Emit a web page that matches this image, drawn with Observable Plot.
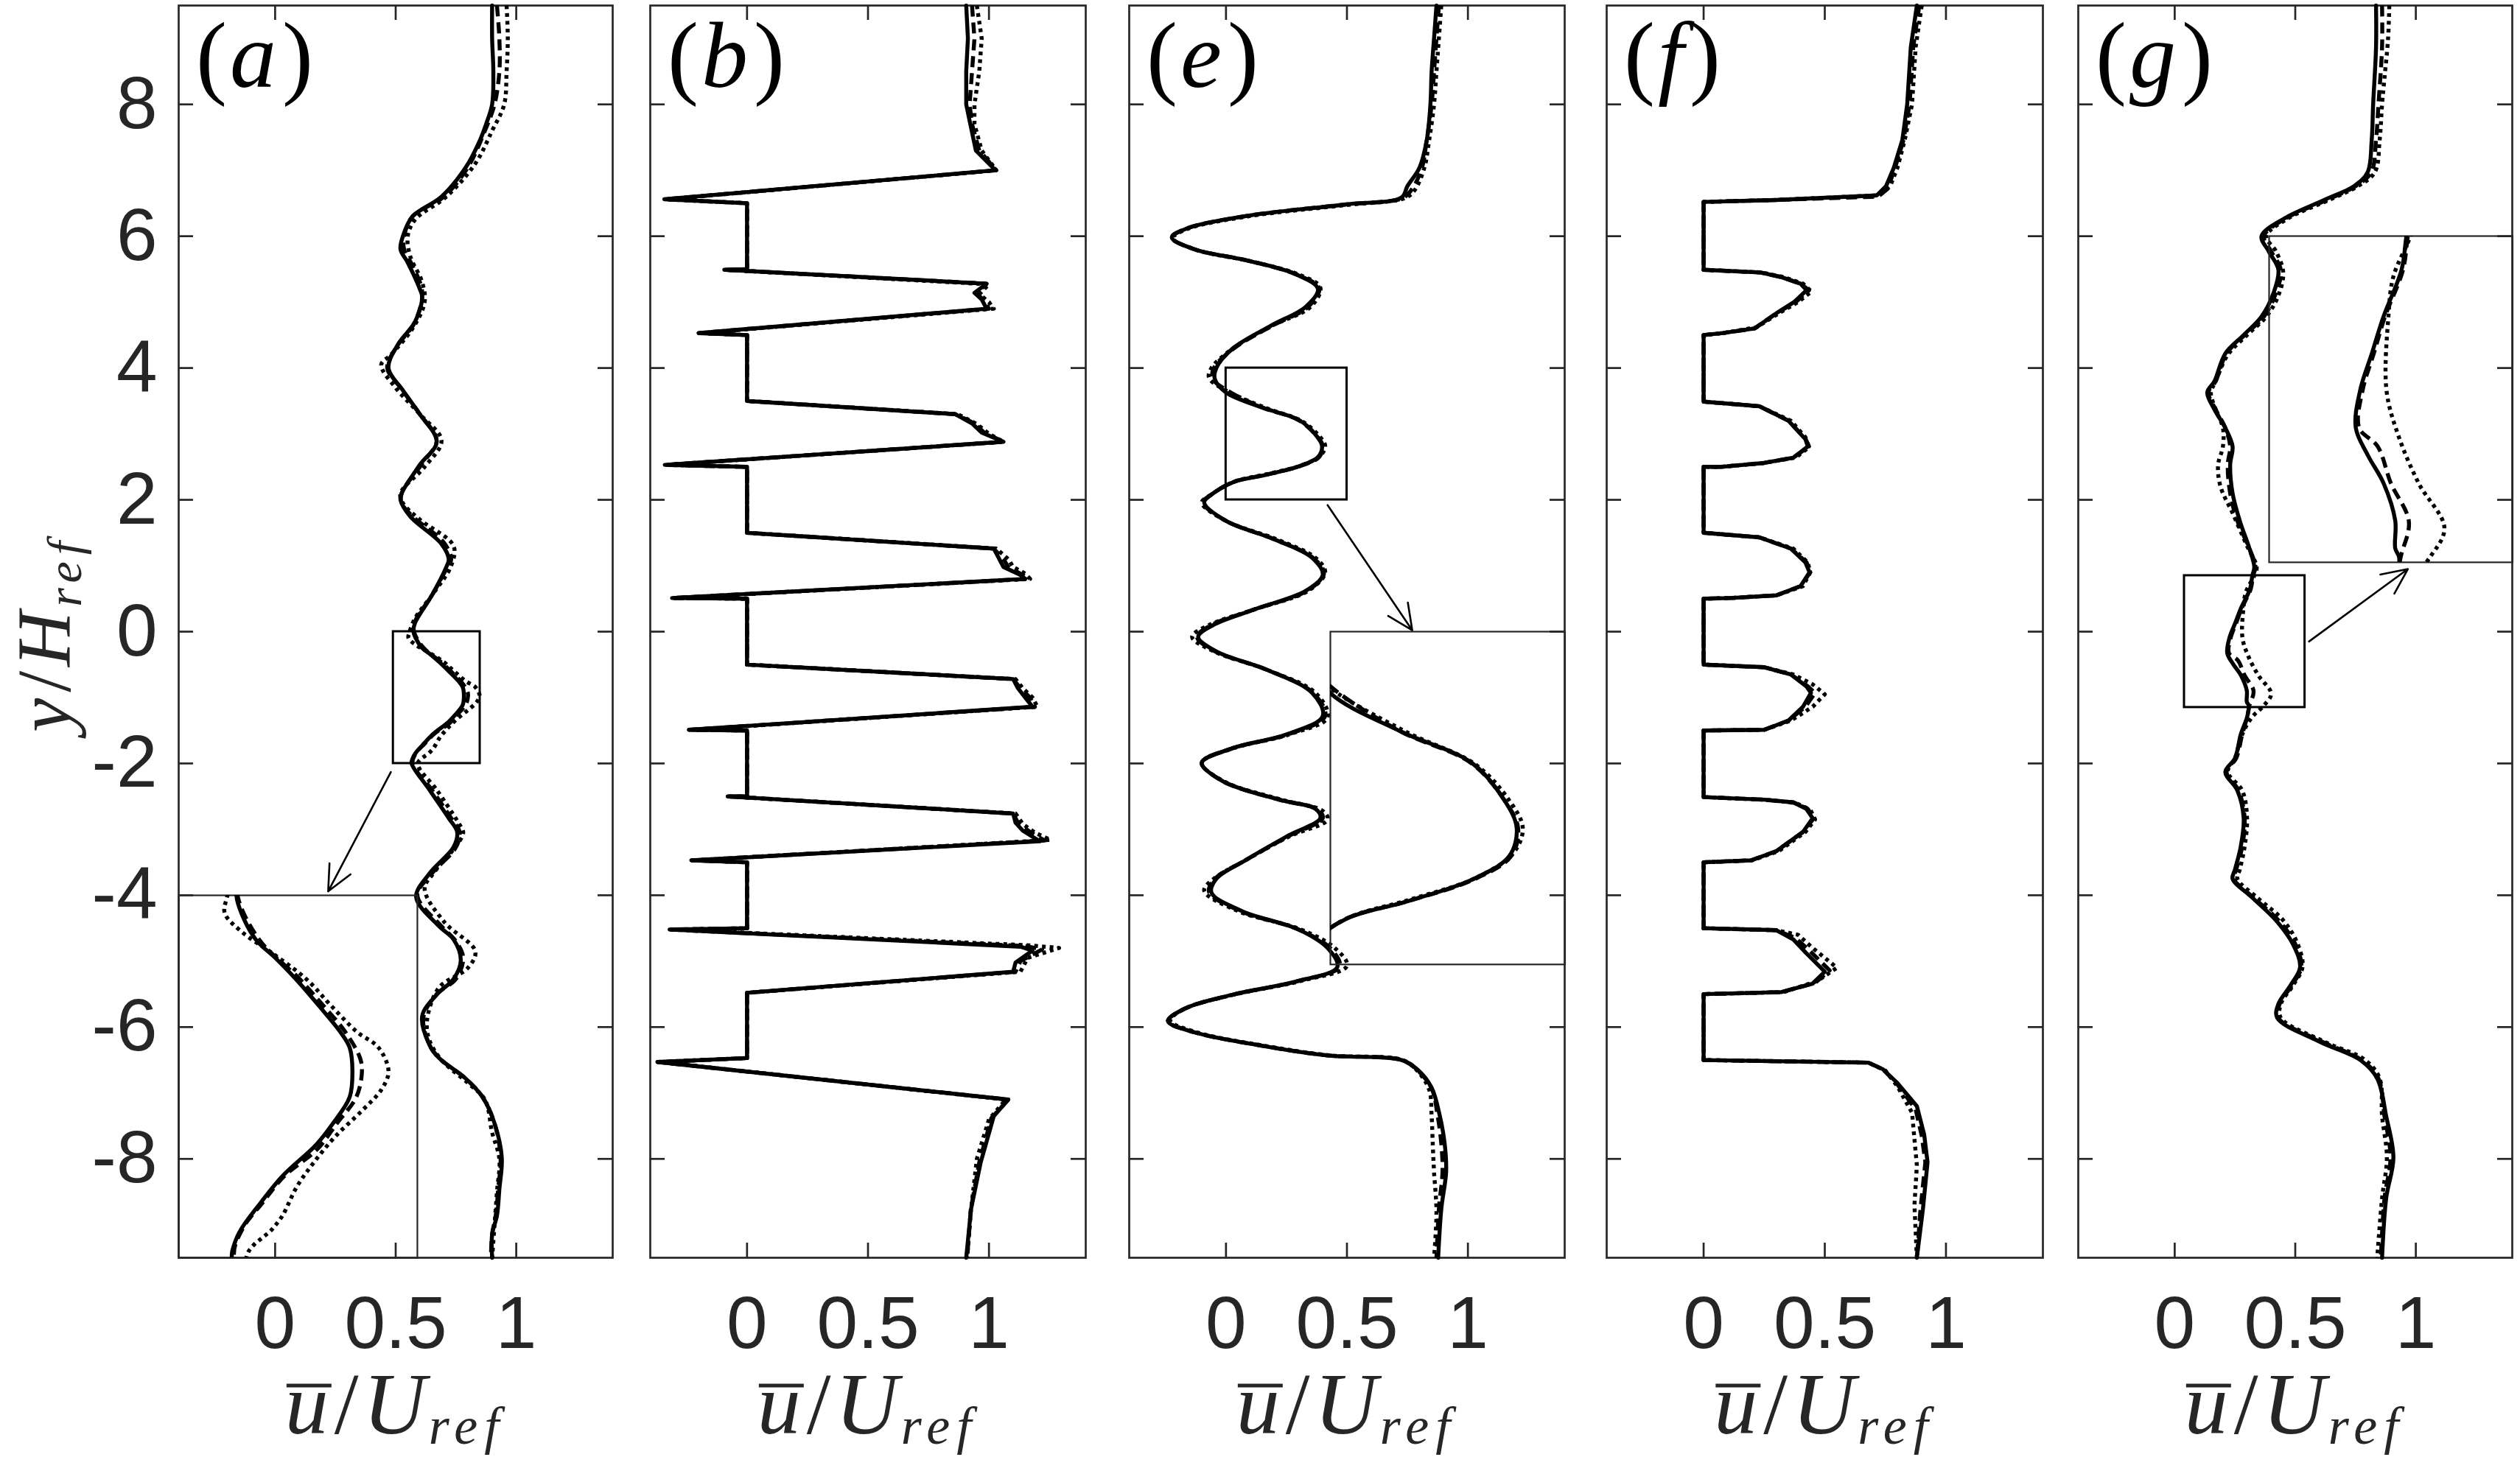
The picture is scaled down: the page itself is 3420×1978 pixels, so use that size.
<!DOCTYPE html>
<html><head><meta charset="utf-8">
<script src="https://cdn.jsdelivr.net/npm/d3@7"></script>
<script src="https://cdn.jsdelivr.net/npm/@observablehq/plot@0.6"></script>
<style>
body{margin:0;background:#fff;}
#fig{position:relative;width:3420px;height:1978px;background:#fff;overflow:hidden;}
#fig > svg{position:absolute;}
.mathtxt{font-family:"Liberation Serif","DejaVu Serif",serif;}
</style></head><body><div id="fig"></div>
<script>
// ---------- axes ----------
const xTicks = [0, 0.5, 1];
const yTicks = [-8, -6, -4, -2, 0, 2, 4, 6, 8];
const xDomain = [-0.4, 1.4];
const yDomain = [-9.5, 9.5];
const panelIds = ["a", "b", "e", "f", "g"];

// ---------- panel (a) ----------
const a_solid = [[0.90,9.5],[0.90,9.0],[0.905,8.5],[0.90,8.0],[0.875,7.7],[0.85,7.46],[0.79,7.04],[0.69,6.6],[0.57,6.3],[0.53,6.0],[0.52,5.8],[0.55,5.6],[0.60,5.2],[0.61,5.07],[0.58,4.7],[0.51,4.36],[0.47,4.0],[0.53,3.66],[0.60,3.3],[0.67,2.88],[0.60,2.53],[0.525,2.1],[0.52,2.0],[0.56,1.75],[0.69,1.33],[0.72,1.1],[0.71,0.98],[0.65,0.55],[0.58,0.13],[0.574,0],[0.583,-0.098],[0.609,-0.244],[0.644,-0.345],[0.681,-0.462],[0.722,-0.607],[0.761,-0.753],[0.778,-0.84],[0.783,-0.971],[0.778,-1.113],[0.748,-1.258],[0.718,-1.375],[0.657,-1.549],[0.618,-1.695],[0.583,-1.84],[0.570,-1.927],[0.566,-2.0],[0.64,-2.4],[0.72,-2.83],[0.755,-3.04],[0.74,-3.27],[0.64,-3.67],[0.585,-4.03],[0.68,-4.47],[0.74,-4.67],[0.77,-4.99],[0.74,-5.27],[0.67,-5.51],[0.61,-5.83],[0.64,-6.27],[0.68,-6.47],[0.79,-6.78],[0.86,-7.06],[0.91,-7.46],[0.94,-7.98],[0.93,-8.46],[0.92,-8.86],[0.90,-9.14],[0.90,-9.5]];
const a_dashed = [[0.92,9.5],[0.93,9.0],[0.93,8.5],[0.91,8.0],[0.87,7.6],[0.80,7.05],[0.70,6.6],[0.57,6.3],[0.535,6.0],[0.535,5.8],[0.57,5.55],[0.61,5.15],[0.58,4.7],[0.50,4.3],[0.465,4.0],[0.52,3.7],[0.60,3.3],[0.67,2.9],[0.61,2.55],[0.525,2.1],[0.525,1.95],[0.57,1.75],[0.70,1.35],[0.73,1.1],[0.71,0.95],[0.65,0.55],[0.58,0.15],[0.576,0],[0.615,-0.244],[0.688,-0.462],[0.730,-0.607],[0.770,-0.753],[0.797,-0.9],[0.800,-0.98],[0.790,-1.113],[0.755,-1.258],[0.72,-1.4],[0.66,-1.55],[0.62,-1.7],[0.585,-1.84],[0.57,-2.0],[0.65,-2.4],[0.73,-2.83],[0.765,-3.04],[0.75,-3.27],[0.65,-3.67],[0.59,-4.0],[0.69,-4.47],[0.75,-4.7],[0.78,-4.95],[0.75,-5.27],[0.67,-5.5],[0.615,-5.85],[0.64,-6.27],[0.68,-6.47],[0.79,-6.78],[0.86,-7.06],[0.91,-7.46],[0.935,-7.98],[0.925,-8.46],[0.915,-8.86],[0.90,-9.14],[0.895,-9.5]];
const a_dotted = [[0.96,9.5],[0.965,9.0],[0.96,8.5],[0.95,8.0],[0.90,7.6],[0.83,7.1],[0.71,6.6],[0.58,6.25],[0.55,6.0],[0.56,5.7],[0.61,5.3],[0.62,5.0],[0.57,4.6],[0.48,4.2],[0.44,4.05],[0.50,3.7],[0.60,3.3],[0.69,2.9],[0.62,2.5],[0.52,2.1],[0.53,1.95],[0.60,1.7],[0.74,1.3],[0.73,1.0],[0.66,0.6],[0.58,0.2],[0.557,-0.011],[0.553,-0.098],[0.583,-0.2],[0.639,-0.32],[0.700,-0.462],[0.744,-0.607],[0.791,-0.753],[0.830,-0.84],[0.848,-0.971],[0.835,-1.073],[0.800,-1.189],[0.752,-1.331],[0.713,-1.476],[0.683,-1.607],[0.657,-1.767],[0.639,-1.84],[0.592,-2.0],[0.67,-2.4],[0.76,-2.9],[0.78,-3.05],[0.74,-3.3],[0.66,-3.65],[0.62,-3.9],[0.70,-4.4],[0.83,-4.85],[0.80,-5.1],[0.68,-5.4],[0.63,-5.9],[0.64,-6.2],[0.69,-6.5],[0.80,-6.85],[0.87,-7.1],[0.90,-7.6],[0.93,-8.0],[0.92,-8.5],[0.91,-9.0],[0.90,-9.5]];

// ---------- panel (b) ----------
const b_solid = [[0.906,9.5],[0.913,9.0],[0.906,8.5],[0.906,8.0],[0.92,7.75],[0.946,7.3],[1.027,7.0],[-0.342,6.56],[0,6.5],[0,5.5],[-0.094,5.49],[0.99,5.28],[0.94,5.14],[0.97,5.04],[0.99,4.9],[-0.20,4.53],[0,4.5],[0,3.5],[0.86,3.3],[0.93,3.16],[0.97,3.02],[1.06,2.88],[-0.34,2.53],[0,2.5],[0,1.5],[1.02,1.26],[1.04,1.12],[1.06,0.98],[1.13,0.86],[1.15,0.8],[-0.31,0.51],[0,0.5],[0,-0.5],[1.10,-0.72],[1.12,-0.86],[1.15,-1.0],[1.18,-1.14],[-0.24,-1.49],[0,-1.5],[0,-2.5],[-0.08,-2.5],[1.10,-2.76],[1.11,-2.9],[1.14,-3.02],[1.21,-3.18],[-0.23,-3.47],[0,-3.5],[0,-4.5],[-0.32,-4.52],[1.13,-4.78],[1.18,-4.84],[1.11,-5.02],[1.10,-5.16],[0,-5.48],[0,-6.47],[-0.37,-6.53],[1.08,-7.1],[1.02,-7.35],[0.966,-8.05],[0.926,-8.76],[0.906,-9.5]];
const b_dashed = [[0.93,9.5],[0.94,9.0],[0.93,8.5],[0.92,8.0],[0.93,7.7],[0.96,7.3],[1.03,7.0],[-0.34,6.56],[0,6.5],[0,5.5],[-0.09,5.49],[0.99,5.28],[0.95,5.13],[0.98,5.02],[1.0,4.9],[-0.2,4.53],[0,4.5],[0,3.5],[0.86,3.3],[0.94,3.16],[0.98,3.02],[1.06,2.88],[-0.34,2.53],[0,2.5],[0,1.5],[1.02,1.26],[1.06,1.1],[1.08,0.98],[1.14,0.86],[1.16,0.8],[-0.31,0.51],[0,0.5],[0,-0.5],[1.10,-0.72],[1.13,-0.86],[1.17,-1.0],[1.19,-1.14],[-0.24,-1.49],[0,-1.5],[0,-2.5],[-0.08,-2.5],[1.10,-2.76],[1.12,-2.9],[1.17,-3.04],[1.23,-3.17],[-0.23,-3.47],[0,-3.5],[0,-4.5],[-0.32,-4.52],[1.15,-4.77],[1.22,-4.82],[1.13,-5.0],[1.11,-5.16],[0,-5.48],[0,-6.47],[-0.37,-6.53],[1.08,-7.1],[1.01,-7.38],[0.96,-8.05],[0.925,-8.76],[0.91,-9.5]];
const b_dotted = [[0.95,9.5],[0.97,9.0],[0.96,8.5],[0.94,8.0],[0.94,7.7],[0.97,7.3],[1.03,7.0],[-0.33,6.56],[0,6.5],[0,5.5],[-0.09,5.49],[1.0,5.27],[0.96,5.12],[1.0,5.0],[1.02,4.9],[-0.19,4.53],[0,4.5],[0,3.5],[0.87,3.3],[0.95,3.15],[1.0,3.0],[1.06,2.88],[-0.33,2.53],[0,2.5],[0,1.5],[1.03,1.26],[1.08,1.1],[1.10,0.98],[1.15,0.88],[1.17,0.8],[-0.30,0.51],[0,0.5],[0,-0.5],[1.11,-0.72],[1.14,-0.86],[1.18,-1.0],[1.20,-1.14],[-0.23,-1.49],[0,-1.5],[0,-2.5],[-0.08,-2.5],[1.11,-2.76],[1.14,-2.92],[1.19,-3.05],[1.255,-3.16],[-0.22,-3.47],[0,-3.5],[0,-4.5],[-0.31,-4.52],[1.17,-4.76],[1.29,-4.8],[1.16,-4.95],[1.13,-5.16],[0,-5.48],[0,-6.47],[-0.36,-6.53],[1.07,-7.1],[1.0,-7.4],[0.95,-8.0],[0.925,-8.8],[0.91,-9.5]];

// ---------- panel (e) ----------
const e_solid = [[0.87,9.5],[0.86,9.0],[0.85,8.5],[0.845,8.0],[0.83,7.46],[0.80,7.04],[0.75,6.76],[0.726,6.59],[0.49,6.48],[0.09,6.31],[-0.16,6.12],[-0.224,5.98],[-0.13,5.8],[0.09,5.63],[0.29,5.42],[0.38,5.2],[0.33,4.93],[0.185,4.64],[0.026,4.29],[-0.04,4.0],[-0.046,3.83],[0.0,3.63],[0.15,3.4],[0.302,3.21],[0.37,2.99],[0.397,2.82],[0.381,2.65],[0.302,2.51],[0.165,2.38],[0.031,2.27],[-0.06,2.08],[-0.09,1.96],[0.0,1.68],[0.20,1.4],[0.356,1.12],[0.40,0.86],[0.33,0.62],[0.12,0.34],[-0.053,0.1],[-0.115,-0.08],[-0.04,-0.3],[0.17,-0.58],[0.356,-0.93],[0.40,-1.28],[0.25,-1.56],[0.026,-1.77],[-0.10,-1.99],[-0.013,-2.27],[0.22,-2.55],[0.37,-2.69],[0.39,-2.83],[0.25,-3.11],[0.08,-3.47],[-0.04,-3.75],[-0.06,-3.96],[0.066,-4.24],[0.30,-4.52],[0.42,-4.8],[0.46,-5.09],[0.30,-5.3],[0.026,-5.51],[-0.17,-5.72],[-0.24,-5.91],[-0.13,-6.08],[0.16,-6.29],[0.42,-6.43],[0.726,-6.5],[0.79,-6.64],[0.85,-6.92],[0.884,-7.35],[0.904,-7.77],[0.91,-8.19],[0.89,-8.76],[0.877,-9.5]];
const e_dashed = [[0.88,9.5],[0.87,9.0],[0.86,8.5],[0.85,8.0],[0.83,7.46],[0.81,7.04],[0.77,6.72],[0.73,6.58],[0.49,6.48],[0.09,6.31],[-0.16,6.12],[-0.225,5.98],[-0.13,5.8],[0.09,5.63],[0.29,5.42],[0.385,5.21],[0.34,4.93],[0.19,4.64],[0.03,4.29],[-0.05,4.0],[-0.055,3.84],[0.005,3.66],[0.15,3.4],[0.30,3.21],[0.37,2.99],[0.40,2.82],[0.385,2.65],[0.305,2.51],[0.165,2.38],[0.03,2.27],[-0.06,2.08],[-0.095,1.96],[0.0,1.68],[0.20,1.4],[0.36,1.12],[0.405,0.88],[0.335,0.62],[0.12,0.34],[-0.06,0.1],[-0.12,-0.08],[-0.045,-0.3],[0.17,-0.58],[0.36,-0.93],[0.41,-1.28],[0.255,-1.56],[0.026,-1.77],[-0.10,-1.99],[-0.013,-2.27],[0.22,-2.55],[0.38,-2.7],[0.40,-2.83],[0.255,-3.11],[0.08,-3.47],[-0.045,-3.75],[-0.07,-3.95],[0.06,-4.24],[0.30,-4.52],[0.43,-4.8],[0.47,-5.08],[0.30,-5.3],[0.026,-5.51],[-0.17,-5.72],[-0.24,-5.91],[-0.13,-6.08],[0.16,-6.29],[0.42,-6.43],[0.726,-6.5],[0.79,-6.65],[0.85,-6.93],[0.875,-7.35],[0.89,-7.77],[0.895,-8.19],[0.88,-8.76],[0.87,-9.5]];
const e_dotted = [[0.89,9.5],[0.88,9.0],[0.87,8.5],[0.86,8.0],[0.84,7.46],[0.82,7.04],[0.78,6.7],[0.74,6.58],[0.49,6.47],[0.09,6.3],[-0.16,6.11],[-0.22,5.97],[-0.12,5.79],[0.10,5.62],[0.30,5.42],[0.39,5.22],[0.35,4.93],[0.19,4.64],[0.03,4.3],[-0.06,4.0],[-0.07,3.85],[0.0,3.66],[0.16,3.4],[0.31,3.2],[0.38,2.99],[0.41,2.82],[0.39,2.67],[0.31,2.52],[0.17,2.39],[0.03,2.27],[-0.06,2.08],[-0.10,1.96],[0.0,1.68],[0.21,1.4],[0.37,1.12],[0.41,0.9],[0.34,0.62],[0.12,0.34],[-0.07,0.1],[-0.14,-0.08],[-0.05,-0.3],[0.17,-0.58],[0.37,-0.93],[0.42,-1.3],[0.26,-1.56],[0.03,-1.77],[-0.10,-1.99],[-0.01,-2.27],[0.23,-2.55],[0.40,-2.72],[0.42,-2.85],[0.26,-3.11],[0.08,-3.47],[-0.05,-3.75],[-0.09,-3.93],[0.05,-4.24],[0.31,-4.52],[0.45,-4.8],[0.50,-5.07],[0.31,-5.3],[0.03,-5.51],[-0.17,-5.72],[-0.23,-5.9],[-0.12,-6.08],[0.17,-6.29],[0.43,-6.43],[0.73,-6.5],[0.79,-6.66],[0.84,-6.95],[0.85,-7.35],[0.855,-7.8],[0.86,-8.2],[0.87,-8.8],[0.86,-9.5]];

// ---------- panel (f) ----------
const f_solid = [[0.88,9.5],[0.855,8.87],[0.84,8.0],[0.82,7.46],[0.785,7.04],[0.753,6.76],[0.715,6.62],[0.30,6.55],[0,6.52],[0,5.49],[0.234,5.45],[0.32,5.38],[0.40,5.28],[0.425,5.18],[0.373,5.0],[0.30,4.83],[0.21,4.6],[0.08,4.53],[0,4.5],[0,3.49],[0.23,3.42],[0.35,3.2],[0.42,2.92],[0.43,2.81],[0.37,2.64],[0.25,2.56],[0.07,2.5],[0,2.5],[0,1.5],[0.23,1.43],[0.36,1.26],[0.42,1.05],[0.437,0.9],[0.40,0.69],[0.30,0.55],[0.11,0.51],[0,0.5],[0,-0.5],[0.25,-0.54],[0.36,-0.65],[0.424,-0.83],[0.443,-0.93],[0.41,-1.14],[0.35,-1.35],[0.25,-1.49],[0,-1.5],[0,-2.51],[0.25,-2.55],[0.37,-2.59],[0.424,-2.69],[0.45,-2.83],[0.41,-3.04],[0.30,-3.33],[0.196,-3.47],[0,-3.5],[0,-4.5],[0.30,-4.53],[0.37,-4.67],[0.424,-4.88],[0.50,-5.16],[0.45,-5.34],[0.32,-5.47],[0,-5.5],[0,-6.5],[0.68,-6.54],[0.74,-6.64],[0.80,-6.85],[0.88,-7.2],[0.91,-7.63],[0.924,-8.05],[0.905,-8.76],[0.88,-9.5]];
const f_dashed = [[0.89,9.5],[0.865,8.87],[0.85,8.0],[0.825,7.46],[0.79,7.04],[0.76,6.72],[0.72,6.6],[0.30,6.55],[0,6.52],[0,5.49],[0.234,5.45],[0.32,5.38],[0.40,5.28],[0.435,5.18],[0.38,5.0],[0.30,4.83],[0.21,4.6],[0.08,4.53],[0,4.5],[0,3.49],[0.23,3.42],[0.35,3.2],[0.42,2.93],[0.435,2.81],[0.37,2.64],[0.25,2.56],[0.07,2.5],[0,2.5],[0,1.5],[0.23,1.43],[0.36,1.26],[0.425,1.05],[0.44,0.9],[0.40,0.69],[0.30,0.55],[0.11,0.51],[0,0.5],[0,-0.5],[0.25,-0.54],[0.36,-0.65],[0.43,-0.83],[0.46,-0.93],[0.42,-1.14],[0.35,-1.35],[0.25,-1.49],[0,-1.5],[0,-2.51],[0.25,-2.55],[0.37,-2.59],[0.43,-2.69],[0.455,-2.83],[0.41,-3.04],[0.30,-3.33],[0.196,-3.47],[0,-3.5],[0,-4.5],[0.30,-4.53],[0.38,-4.65],[0.44,-4.85],[0.52,-5.14],[0.46,-5.33],[0.32,-5.47],[0,-5.5],[0,-6.5],[0.68,-6.54],[0.74,-6.64],[0.80,-6.87],[0.875,-7.25],[0.9,-7.65],[0.915,-8.05],[0.895,-8.76],[0.88,-9.5]];
const f_dotted = [[0.90,9.5],[0.875,8.87],[0.86,8.0],[0.83,7.46],[0.80,7.04],[0.77,6.76],[0.72,6.62],[0.30,6.55],[0,6.52],[0,5.49],[0.24,5.45],[0.33,5.38],[0.41,5.28],[0.445,5.16],[0.39,5.0],[0.31,4.83],[0.22,4.62],[0.08,4.53],[0,4.5],[0,3.49],[0.23,3.42],[0.36,3.2],[0.42,2.95],[0.435,2.8],[0.38,2.64],[0.25,2.56],[0.07,2.5],[0,2.5],[0,1.5],[0.23,1.43],[0.37,1.26],[0.43,1.05],[0.44,0.9],[0.41,0.69],[0.30,0.55],[0.11,0.51],[0,0.5],[0,-0.5],[0.25,-0.54],[0.37,-0.65],[0.45,-0.8],[0.50,-0.95],[0.45,-1.14],[0.36,-1.35],[0.25,-1.49],[0,-1.5],[0,-2.51],[0.25,-2.55],[0.38,-2.6],[0.44,-2.7],[0.46,-2.85],[0.42,-3.04],[0.31,-3.33],[0.2,-3.47],[0,-3.5],[0,-4.5],[0.30,-4.53],[0.39,-4.6],[0.45,-4.8],[0.55,-5.1],[0.47,-5.3],[0.33,-5.47],[0,-5.5],[0,-6.5],[0.68,-6.54],[0.75,-6.66],[0.80,-6.9],[0.86,-7.3],[0.87,-7.7],[0.88,-8.1],[0.87,-8.7],[0.88,-9.5]];

// ---------- panel (g) ----------
const g_solid = [[0.835,9.5],[0.835,8.87],[0.823,8.0],[0.817,7.46],[0.80,6.97],[0.744,6.76],[0.62,6.55],[0.455,6.27],[0.36,6.0],[0.39,5.77],[0.43,5.49],[0.41,5.14],[0.36,4.78],[0.286,4.5],[0.21,4.22],[0.165,3.8],[0.135,3.63],[0.165,3.37],[0.21,3.09],[0.24,2.81],[0.23,2.53],[0.24,2.1],[0.27,1.68],[0.31,1.26],[0.33,0.98],[0.322,0.85],[0.312,0.644],[0.275,0.357],[0.251,0.131],[0.227,-0.095],[0.218,-0.326],[0.243,-0.495],[0.275,-0.665],[0.299,-0.895],[0.299,-1.065],[0.307,-1.12],[0.30,-1.3],[0.274,-1.56],[0.25,-1.92],[0.21,-2.13],[0.26,-2.41],[0.286,-2.83],[0.274,-3.26],[0.25,-3.61],[0.24,-3.75],[0.32,-4.03],[0.42,-4.38],[0.49,-4.74],[0.52,-5.09],[0.48,-5.37],[0.43,-5.65],[0.425,-5.86],[0.60,-6.22],[0.77,-6.5],[0.84,-6.78],[0.877,-7.35],[0.907,-7.98],[0.877,-8.6],[0.86,-9.5]];
const g_dashed = [[0.86,9.5],[0.86,8.87],[0.845,8.0],[0.835,7.46],[0.815,6.97],[0.75,6.76],[0.63,6.55],[0.46,6.27],[0.37,6.0],[0.40,5.77],[0.44,5.49],[0.42,5.14],[0.37,4.78],[0.29,4.5],[0.215,4.22],[0.17,3.8],[0.14,3.63],[0.17,3.37],[0.21,3.09],[0.23,2.81],[0.22,2.53],[0.23,2.1],[0.26,1.68],[0.31,1.26],[0.335,0.98],[0.325,0.85],[0.315,0.644],[0.278,0.357],[0.255,0.131],[0.232,-0.095],[0.225,-0.326],[0.263,-0.44],[0.29,-0.665],[0.327,-0.9],[0.31,-1.12],[0.30,-1.3],[0.28,-1.56],[0.255,-1.92],[0.215,-2.13],[0.265,-2.41],[0.29,-2.83],[0.28,-3.26],[0.255,-3.61],[0.245,-3.75],[0.325,-4.03],[0.43,-4.38],[0.50,-4.74],[0.525,-5.09],[0.485,-5.37],[0.435,-5.65],[0.43,-5.86],[0.61,-6.22],[0.775,-6.5],[0.845,-6.78],[0.87,-7.35],[0.895,-7.98],[0.87,-8.6],[0.855,-9.5]];
const g_dotted = [[0.89,9.5],[0.885,9.0],[0.87,8.4],[0.86,8.0],[0.85,7.46],[0.83,6.97],[0.76,6.76],[0.64,6.55],[0.47,6.27],[0.38,6.0],[0.42,5.77],[0.45,5.45],[0.43,5.1],[0.38,4.78],[0.30,4.5],[0.22,4.2],[0.17,3.8],[0.15,3.63],[0.17,3.37],[0.20,3.09],[0.20,2.81],[0.18,2.53],[0.19,2.2],[0.24,1.8],[0.30,1.3],[0.34,0.98],[0.33,0.85],[0.295,0.6],[0.285,0.357],[0.281,-0.095],[0.305,-0.37],[0.347,-0.665],[0.40,-0.94],[0.37,-1.12],[0.32,-1.3],[0.28,-1.56],[0.25,-1.92],[0.22,-2.13],[0.28,-2.41],[0.30,-2.83],[0.29,-3.26],[0.27,-3.61],[0.26,-3.75],[0.34,-4.03],[0.45,-4.38],[0.51,-4.74],[0.53,-5.09],[0.49,-5.37],[0.44,-5.65],[0.44,-5.86],[0.62,-6.22],[0.79,-6.5],[0.85,-6.78],[0.86,-7.35],[0.88,-7.98],[0.86,-8.6],[0.84,-9.5]];

// ---------- zoom annotations (data units of each panel) ----------
const zoomBoxes = [
  {panel: "a", x1: 0.49, x2: 0.85, y1: -2, y2: 0},
  {panel: "e", x1: 0.0, x2: 0.5, y1: 2, y2: 4},
  {panel: "g", x1: 0.04, x2: 0.54, y1: -1.15, y2: 0.85}
];
const insetFrames = [
  {panel: "a", x1: -0.4, x2: 0.59, y1: -9.5, y2: -4},
  {panel: "e", x1: 0.43, x2: 1.4, y1: -5.05, y2: 0},
  {panel: "g", x1: 0.39, x2: 1.4, y1: 1.05, y2: 6}
];
const insetDomains = [
  {panel: "a", x: [0.47, 0.90], y: [-2, 0]},
  {panel: "e", x: [0.0, 0.5], y: [2, 4]},
  {panel: "g", x: [0.04, 0.54], y: [-1.15, 0.85]}
];
const zoomArrows = [
  {panel: "a", x1: 0.48, y1: -2.13, x2: 0.22, y2: -3.94},
  {panel: "e", x1: 0.42, y1: 1.92, x2: 0.77, y2: 0.02},
  {panel: "g", x1: 0.557, y1: -0.15, x2: 0.967, y2: 0.95}
];

// ---------- layout & style ----------
const series = {
  a: [a_solid, a_dashed, a_dotted],
  b: [b_solid, b_dashed, b_dotted],
  e: [e_solid, e_dashed, e_dotted],
  f: [f_solid, f_dashed, f_dotted],
  g: [g_solid, g_dashed, g_dotted]
};
const curveFor = {a: "catmull-rom", b: "linear", e: "catmull-rom", f: "linear", g: "catmull-rom"};
const dashes = [null, "15,8", "5,5.5"];
const panelLeft = [242, 882, 1532, 2180, 2820];
const panelRight = [831, 1473, 2123, 2772, 3409];
const plotTop = 7, plotBottom = 1707, figH = 1978;
const axisColor = "#262626";
const tickLen = 20;
const fmt = d => String(d);
const fig = document.getElementById("fig");

function lineMarks(id, clip) {
  return series[id].map((arr, k) => Plot.line(arr, {
    x: d => d[0], y: d => d[1], curve: curveFor[id],
    stroke: "#000", strokeWidth: 5.4, strokeDasharray: dashes[k],
    strokeLinejoin: "round", strokeLinecap: k === 0 ? "round" : "butt", clip
  }));
}

panelIds.forEach((id, i) => {
  const w = panelRight[i] - panelLeft[i];
  const h = plotBottom - plotTop;
  const ml = i === 0 ? panelLeft[0] : 30, mr = 30;
  const marks = [
    Plot.frame({stroke: axisColor, strokeWidth: 2.7}),
    Plot.tickX(xTicks, {x: d => d, insetTop: h - tickLen, stroke: axisColor, strokeWidth: 2.7}),
    Plot.tickX(xTicks, {x: d => d, insetBottom: h - tickLen, stroke: axisColor, strokeWidth: 2.7}),
    Plot.tickY(yTicks, {y: d => d, insetRight: w - tickLen, stroke: axisColor, strokeWidth: 2.7}),
    Plot.tickY(yTicks, {y: d => d, insetLeft: w - tickLen, stroke: axisColor, strokeWidth: 2.7}),
    Plot.axisX(xTicks, {anchor: "bottom", tickSize: 0, tickPadding: 51, tickFormat: fmt, label: null, fontSize: 100, fill: axisColor}),
    ...lineMarks(id, false),
    Plot.rect(zoomBoxes.filter(b => b.panel === id), {x1: "x1", x2: "x2", y1: "y1", y2: "y2", fill: "none", stroke: "#000", strokeWidth: 3}),
    Plot.arrow(zoomArrows.filter(b => b.panel === id), {x1: "x1", y1: "y1", x2: "x2", y2: "y2", stroke: "#000", strokeWidth: 2.6, headLength: 22, headAngle: 50})
  ];
  if (i === 0) marks.push(Plot.axisY(yTicks, {anchor: "left", tickSize: 0, tickPadding: 29, tickFormat: fmt, label: null, fontSize: 100, fill: axisColor}));
  const svg = Plot.plot({
    width: ml + w + mr, height: figH,
    marginLeft: ml, marginRight: mr, marginTop: plotTop, marginBottom: figH - plotBottom,
    x: {domain: xDomain, axis: null},
    y: {domain: yDomain, axis: null},
    style: {fontFamily: "'Liberation Sans', Arial, Helvetica, sans-serif", fontSize: "100px", color: axisColor, background: "transparent", overflow: "visible", maxWidth: "none"},
    marks
  });
  svg.style.left = (panelLeft[i] - ml) + "px";
  svg.style.top = "0px";
  fig.appendChild(svg);

  // inset axes
  const fr = insetFrames.find(d => d.panel === id);
  if (fr) {
    const dom = insetDomains.find(d => d.panel === id);
    const px = v => panelLeft[i] + (v - xDomain[0]) / (xDomain[1] - xDomain[0]) * w;
    const py = v => plotTop + (yDomain[1] - v) / (yDomain[1] - yDomain[0]) * h;
    const L = px(fr.x1), R = px(fr.x2), T = py(fr.y2), B = py(fr.y1);
    const inset = Plot.plot({
      width: R - L, height: B - T, margin: 0,
      x: {domain: dom.x, axis: null}, y: {domain: dom.y, axis: null},
      style: {background: "transparent", overflow: "visible", maxWidth: "none"},
      marks: [Plot.frame({stroke: axisColor, strokeWidth: 2.2}), ...lineMarks(id, true)]
    });
    inset.style.left = L + "px";
    inset.style.top = T + "px";
    fig.appendChild(inset);
  }
});

// ---------- text overlay: panel letters & axis titles ----------
const ov = d3.select(fig).append("svg")
  .attr("width", 3420).attr("height", figH)
  .style("left", "0px").style("top", "0px").style("pointer-events", "none");

panelIds.forEach((id, i) => {
  const t = ov.append("text").attr("class", "mathtxt").attr("x", panelLeft[i] + 24).attr("y", 118)
    .style("font-size", "126px").attr("fill", "#000");
  t.append("tspan").text("(");
  t.append("tspan").style("font-style", "italic").attr("dx", 4).text(id);
  t.append("tspan").attr("dx", 8).text(")");

  const cx = (panelLeft[i] + panelRight[i]) / 2;
  const xl = ov.append("text").attr("class", "mathtxt").attr("x", cx).attr("y", 1946).attr("text-anchor", "middle")
    .style("font-style", "italic").style("font-size", "118px").attr("fill", axisColor);
  xl.append("tspan").text("u");
  xl.append("tspan").style("font-style", "normal").attr("dx", 8).text("/");
  xl.append("tspan").attr("dx", 6).text("U");
  xl.append("tspan").style("font-size", "72px").attr("dy", 14).attr("dx", 4).attr("letter-spacing", 9).text("ref");
  // overline over u
  const ext = xl.node().getExtentOfChar(0);
  ov.append("line").attr("x1", ext.x + 2).attr("x2", ext.x + ext.width + 4)
    .attr("y1", 1881).attr("y2", 1881).attr("stroke", axisColor).attr("stroke-width", 5);
});

const yl = ov.append("text").attr("class", "mathtxt").attr("transform", "translate(95,860) rotate(-90)").attr("text-anchor", "middle")
  .style("font-style", "italic").style("font-size", "104px").attr("fill", axisColor);
yl.append("tspan").text("y");
yl.append("tspan").style("font-style", "normal").attr("dx", 8).text("/");
yl.append("tspan").attr("dx", 6).text("H");
yl.append("tspan").style("font-size", "66px").attr("dy", 15).attr("dx", 6).attr("letter-spacing", 9).text("ref");
</script></body></html>
